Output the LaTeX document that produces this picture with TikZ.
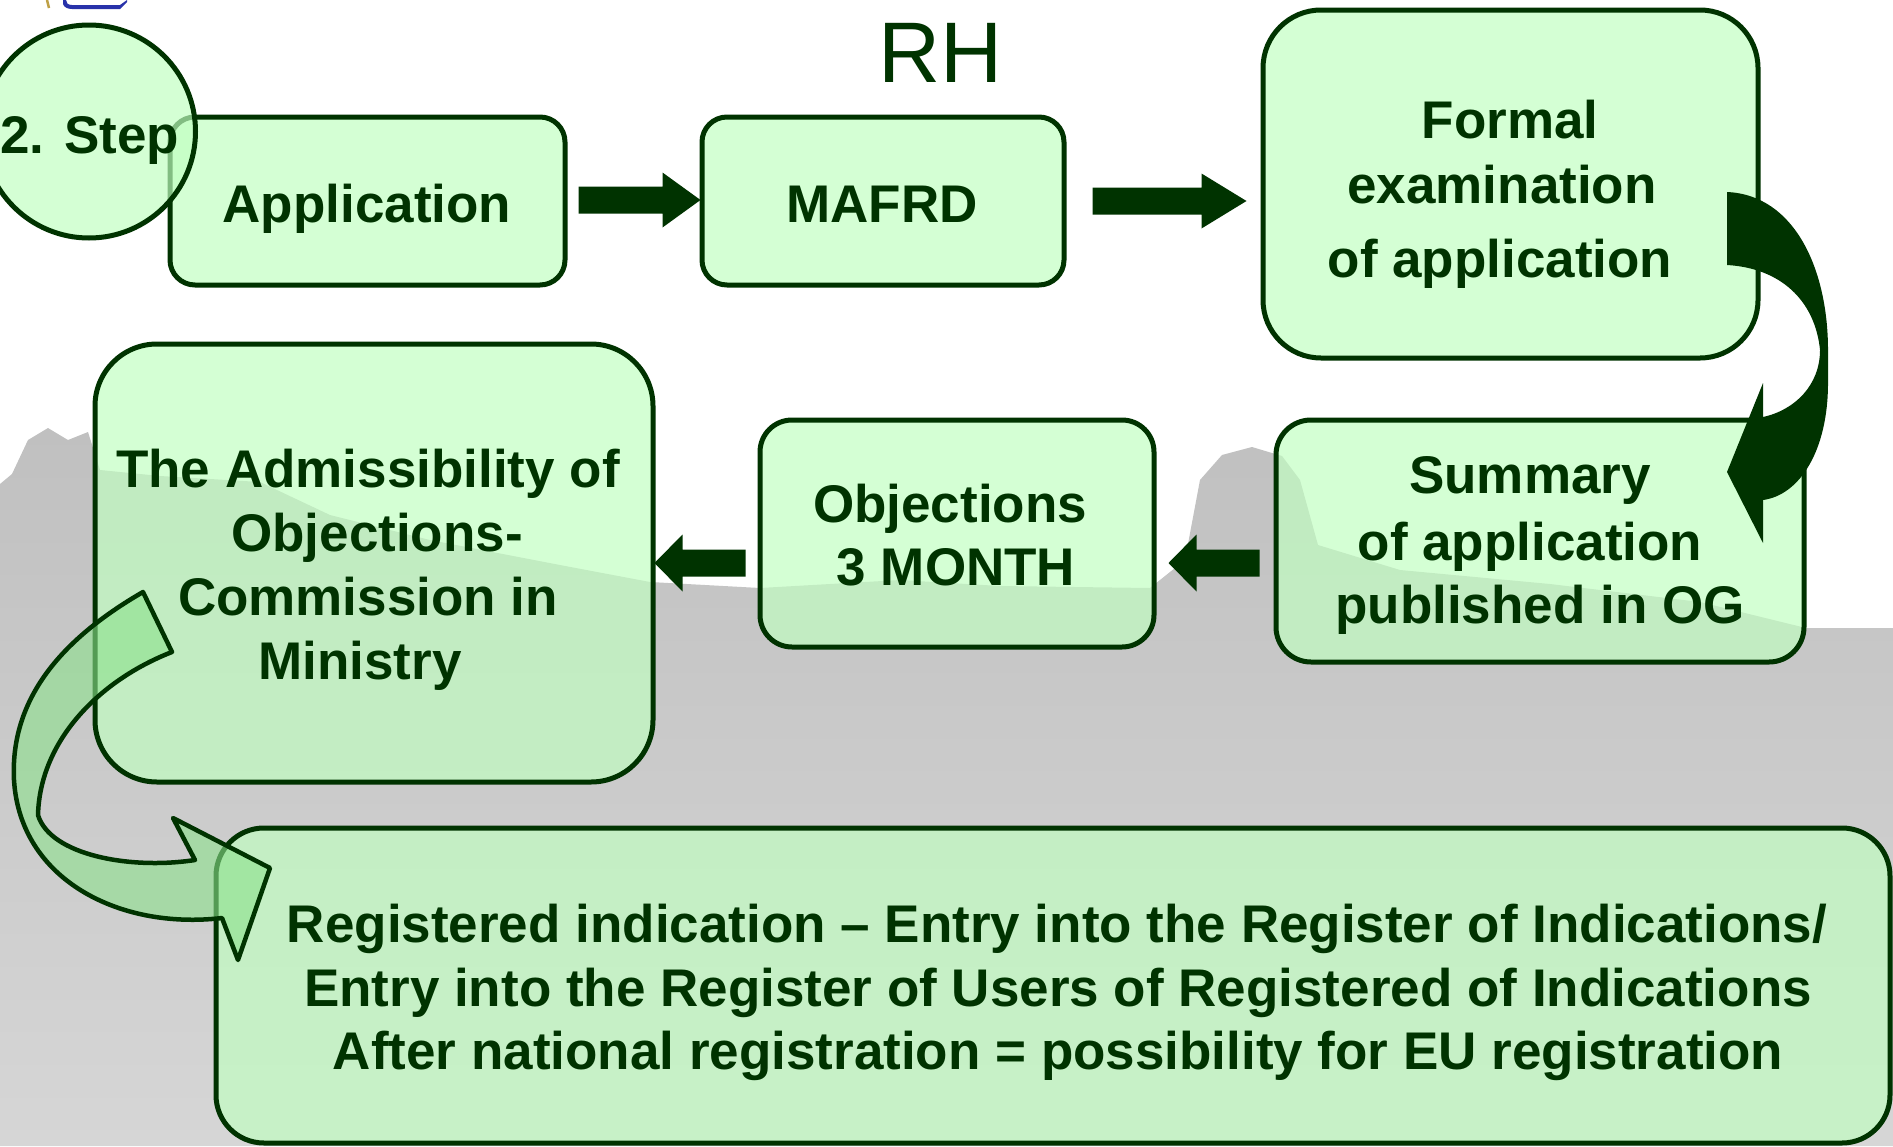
\documentclass[tikz,border=0pt]{standalone}
\usepackage{fontspec}
\setmainfont{Liberation Sans}
\usetikzlibrary{calc}
\definecolor{dg}{RGB}{0,51,0}
\definecolor{boxg}{RGB}{193,255,193}
\definecolor{arrg}{RGB}{140,225,140}
\definecolor{bgA}{RGB}{192,192,192}
\definecolor{bgB}{RGB}{214,214,214}
\definecolor{logob}{RGB}{40,50,170}
\definecolor{logot}{RGB}{190,160,70}
\tikzset{
  rbox/.style={draw=dg, line width=5pt, fill=boxg, fill opacity=0.68, draw opacity=1, inner sep=0pt},
  lbl/.style={anchor=base, inner sep=0pt, text=dg, text opacity=1, font=\fontsize{53}{64}\selectfont\bfseries},
  arrowfill/.style={fill=dg},
}
\newcommand\barrow[4]{%
  \fill[arrowfill] let \p1=(#1), \p2=(#2) in
   (\x1,\y1+13.5pt) -- ({\x2-(#3)},\y1+13.5pt) -- ({\x2-(#3)},\y1+#4) -- (\x2,\y1)
   -- ({\x2-(#3)},\y1-#4) -- ({\x2-(#3)},\y1-13.5pt) -- (\x1,\y1-13.5pt) -- cycle;}
\begin{document}
\begin{tikzpicture}[x=1pt,y=-1pt]
\useasboundingbox (0,0) rectangle (1893,1146);
\fill[white] (0,0) rectangle (1893,1146);
% landscape background
\shade[top color=bgA, bottom color=bgB] (0,1146) -- (0,484) -- (12,474) -- (28,440) -- (48,428) -- (68,440) -- (88,432) -- (100,470) -- (160,476) -- (260,482) -- (330,515) -- (430,540) -- (560,565) -- (650,582) -- (760,588) -- (900,580) -- (1000,586) -- (1150,588) -- (1185,560) -- (1200,480) -- (1222,455) -- (1252,447) -- (1282,456) -- (1300,480) -- (1318,545) -- (1400,570) -- (1550,584) -- (1700,602) -- (1806,628) -- (1893,628) -- (1893,1146) -- cycle;
% logo fragment
\fill[logob] (63,0) -- (63,4) .. controls (64,7) and (67,9) .. (72,9) -- (120,9) -- (127,2) -- (127,0) -- (120,5) -- (72,5) .. controls (68,5) and (66,3) .. (66,0) -- cycle;
\draw[line width=2.5pt, logot] (47,0) -- (49,8);

% boxes
\node[rbox, rounded corners=25pt, minimum width=395pt, minimum height=168pt] (app) at (367.5,201) {};
\node[rbox, rounded corners=25pt, minimum width=362pt, minimum height=168pt] (maf) at (883,201) {};
\node[rbox, rounded corners=58pt, minimum width=495pt, minimum height=348pt] (formal) at (1510.5,184) {};
\node[rbox, rounded corners=35pt, minimum width=528pt, minimum height=242pt] (summary) at (1540,541) {};
\node[rbox, rounded corners=32pt, minimum width=394pt, minimum height=227pt] (obj) at (957,533.5) {};
\node[rbox, rounded corners=62pt, minimum width=558pt, minimum height=438pt] (admiss) at (374,563) {};
\node[rbox, rounded corners=48pt, minimum width=1674pt, minimum height=315pt] (reg) at (1053,985.5) {};
\node[rbox, circle, minimum size=213pt] (stepc) at (89,131.5) {};

% straight block arrows
\coordinate (a1s) at ($(app.east)+(11,-1)$);
\coordinate (a1e) at ($(maf.west)+(1,-1)$);
\barrow{a1s}{a1e}{38pt}{27.5pt}
\coordinate (a2s) at ($(maf.east)+(26,0)$);
\coordinate (a2e) at ($(formal.west |- maf.east)+(-14,0)$);
\barrow{a2s}{a2e}{45pt}{27.5pt}
\coordinate (a3s) at ($(summary.west)+(-14,22)$);
\coordinate (a3e) at ($(obj.east |- a3s)+(12,0)$);
\barrow{a3s}{a3e}{-28pt}{28.5pt}
\coordinate (a4s) at ($(obj.west |- a3s)+(-12,0)$);
\coordinate (a4e) at ($(admiss.east |- a3s)+(-1,0)$);
\barrow{a4s}{a4e}{-28pt}{28.5pt}

% curved arrow formal -> summary
\fill[dg] (1727,192) .. controls (1795,195) and (1828,270) .. (1828,350) -- (1828,383)
  .. controls (1828,450) and (1800,495) .. (1763,500) -- (1763,543) -- (1727,472) -- (1763,383) -- (1763,417)
  .. controls (1795,410) and (1820,385) .. (1820,350) .. controls (1815,300) and (1780,268) .. (1727,265) -- cycle;

% curved arrow admissibility -> registered
\filldraw[draw=dg, line width=4.5pt, fill=arrg, fill opacity=0.6, line join=round]
  (143,592) .. controls (60,640) and (10,700) .. (14,780) .. controls (20,880) and (120,930) .. (222,918)
  -- (238,960) -- (270,868) -- (173,818) -- (195,860)
  .. controls (130,870) and (50,855) .. (38,815) .. controls (40,740) and (100,680) .. (172,652) -- cycle;

% texts
\node[lbl, anchor=base west] (t-step) at (0,153) {2. Step};
\node[anchor=base, inner sep=0pt, text=dg, font=\fontsize{86}{90}\selectfont] (t-rh) at (941,82) {RH};
\node[lbl] (t-app) at (367,222) {Application};
\node[lbl] (t-maf) at (882,222) {MAFRD};
\node[lbl] (t-f1) at (1510,138) {Formal};
\node[lbl] (t-f2) at (1502,203) {examination};
\node[lbl] (t-f3) at (1500,277) {of application};
\node[lbl] (t-s1) at (1530,493) {Summary};
\node[lbl] (t-s2) at (1530,560) {of application};
\node[lbl] (t-s3) at (1540,623) {published in OG};
\node[lbl] (t-o1) at (950,522) {Objections};
\node[lbl] (t-o2) at (956,585) {3 MONTH};
\node[lbl] (t-a1) at (368,487) {The Admissibility of};
\node[lbl] (t-a2) at (377,551) {Objections-};
\node[lbl] (t-a3) at (368,615) {Commission in};
\node[lbl] (t-a4) at (360,679) {Ministry};
\node[lbl] (t-r1) at (1057,942) {Registered indication – Entry into the Register of Indications/};
\node[lbl] (t-r2) at (1058,1006) {Entry into the Register of Users of Registered of Indications};
\node[lbl] (t-r3) at (1058,1069) {After national registration = possibility for EU registration};
\end{tikzpicture}
\end{document}
